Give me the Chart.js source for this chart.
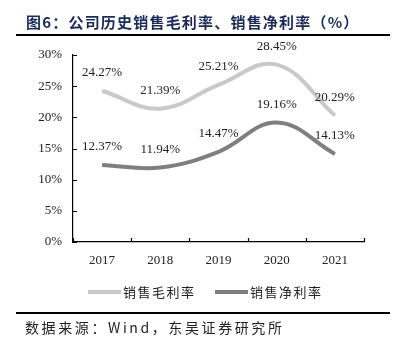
<!DOCTYPE html>
<html>
<head>
<meta charset="utf-8">
<script src="https://cdn.jsdelivr.net/npm/chart.js@4"></script>
<style>
  html, body { margin: 0; padding: 0; background: #fff; }
  #wrap { position: relative; width: 397px; height: 348px; }
</style>
</head>
<body>
<div id="wrap"><canvas id="myChart" width="397" height="348"></canvas></div>
<script>
// 数据
const years = ['2017', '2018', '2019', '2020', '2021'];
const grossMargin = [24.27, 21.39, 25.21, 28.45, 20.29];
const netMargin = [12.37, 11.94, 14.47, 19.16, 14.13];
const seriesNames = ['销售毛利率', '销售净利率'];
const yTicks = [0, 5, 10, 15, 20, 25, 30];

const titleText = '图6：公司历史销售毛利率、销售净利率（%）';
const sourceText = '数据来源：Wind，东吴证券研究所';

const serif = '"Liberation Serif", "Times New Roman", serif';
const cjk = '"Noto Sans CJK SC", sans-serif';

// 标题、数据标签、刻度线、图例、来源
const extras = {
    id: 'extras',
    afterDraw(chart) {
        const c = chart.ctx;
        const x = chart.scales.x;
        const y = chart.scales.y;
        c.save();

        // 标题
        c.fillStyle = '#1b2b55';
        c.font = 'bold 15px ' + cjk;
        c.textBaseline = 'middle';
        c.textAlign = 'left';
        c.letterSpacing = '1.2px';
        c.fillText(titleText, 26, 22);
        c.letterSpacing = '0px';

        c.strokeStyle = '#000';
        c.lineWidth = 2;
        c.beginPath(); c.moveTo(16, 35); c.lineTo(390, 35); c.stroke();

        // 刻度线（朝内）
        c.lineWidth = 1.2;
        c.beginPath();
        yTicks.forEach(v => {
            const py = Math.round(y.getPixelForValue(v)) + 0.5;
            c.moveTo(x.left, py); c.lineTo(x.left + 4, py);
        });
        const half = (x.getPixelForValue(1) - x.getPixelForValue(0)) / 2;
        for (let i = 0; i <= years.length; i++) {
            const px = Math.round(x.getPixelForValue(i) - half) + 0.5;
            c.moveTo(px, y.bottom); c.lineTo(px, y.bottom - 4);
        }
        c.stroke();

        // 数据标签
        c.fillStyle = '#222';
        c.font = '13px ' + serif;
        c.textAlign = 'center';
        chart.data.datasets.forEach(ds => {
            ds.data.forEach((v, i) => {
                c.fillText(v.toFixed(2) + '%', x.getPixelForValue(i), y.getPixelForValue(v) - 18);
            });
        });

        // 图例
        const legendItems = [
            { x: 88, color: '#c9c9c9', label: seriesNames[0] },
            { x: 215, color: '#7f7f7f', label: seriesNames[1] }
        ];
        c.textAlign = 'left';
        c.font = '13px ' + cjk;
        c.letterSpacing = '1.5px';
        legendItems.forEach(it => {
            c.strokeStyle = it.color;
            c.lineWidth = 4;
            c.beginPath(); c.moveTo(it.x, 292); c.lineTo(it.x + 33, 292); c.stroke();
            c.fillStyle = '#222';
            c.fillText(it.label, it.x + 35, 292);
        });

        // 来源
        c.strokeStyle = '#000';
        c.lineWidth = 2;
        c.beginPath(); c.moveTo(16, 313); c.lineTo(390, 313); c.stroke();
        c.fillStyle = '#222';
        c.font = '14px ' + cjk;
        c.letterSpacing = '2.6px';
        c.fillText(sourceText, 25, 328);

        c.restore();
    }
};

const ctx = document.getElementById('myChart');
const myChart = new Chart(ctx, {
    type: 'line',
    data: {
        labels: years,
        datasets: [
            {
                label: seriesNames[0],
                data: grossMargin,
                borderColor: '#c9c9c9',
                borderWidth: 4,
                pointRadius: 0,
                tension: 0.4,
                fill: false
            },
            {
                label: seriesNames[1],
                data: netMargin,
                borderColor: '#7f7f7f',
                borderWidth: 4,
                pointRadius: 0,
                tension: 0.4,
                fill: false
            }
        ]
    },
    options: {
        responsive: false,
        animation: false,
        layout: { padding: { top: 55, right: 33, bottom: 78, left: 0 } },
        plugins: {
            legend: { display: false },
            tooltip: { enabled: false }
        },
        scales: {
            x: {
                offset: true,
                grid: { display: false, drawTicks: false },
                border: { color: '#000', width: 1.2 },
                ticks: { color: '#222', font: { family: serif, size: 13 }, padding: 11 },
                afterFit: s => { s.height = 28; }
            },
            y: {
                min: 0,
                max: 30,
                grid: { display: false, drawTicks: false },
                border: { color: '#000', width: 1.2 },
                ticks: {
                    stepSize: 5,
                    color: '#222',
                    font: { family: serif, size: 13 },
                    padding: 11,
                    callback: v => v + '%'
                },
                afterFit: s => { s.width = 73; }
            }
        }
    },
    plugins: [extras]
});
</script>
</body>
</html>
